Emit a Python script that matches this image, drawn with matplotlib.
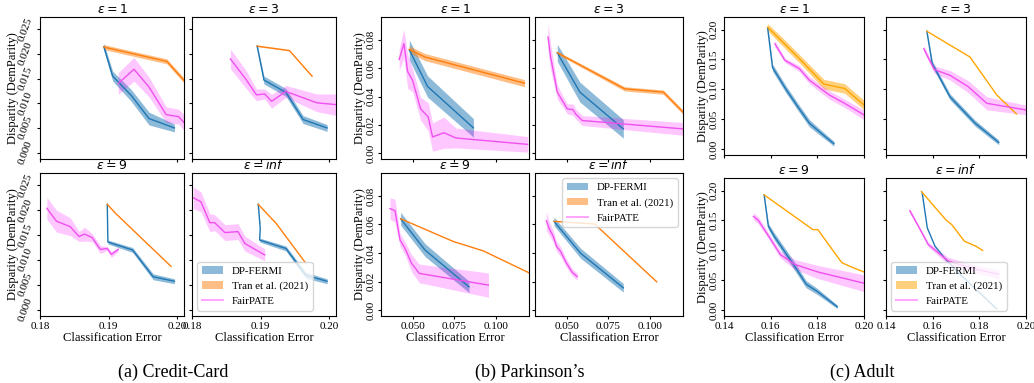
"""
DP-FERMI vs Tran et al. vs FairPATE: disparity / error trade-off
on Credit-Card, Parkinson's and Adult for several privacy budgets.
"""

import numpy as np
import matplotlib.pyplot as plt
from matplotlib.patches import Patch
from matplotlib.lines import Line2D

plt.rcParams['font.family'] = ['Liberation Serif', 'DejaVu Serif']
plt.rcParams['mathtext.fontset'] = 'dejavusans'

# each series: (classification error, disparity, spread)
# ---- Credit-Card ----
CC_E1_FERMI = [(0.1893, 0.0215, 0.0007), (0.1906, 0.0155, 0.0010), (0.1933, 0.0116, 0.0012),
               (0.1959, 0.0069, 0.0013), (0.1996, 0.0050, 0.0008)]
CC_E1_TRAN = [(0.1893, 0.0214, 0.0005), (0.1985, 0.0185, 0.0005), (0.2009, 0.0148, 0.0005),
              (0.2015, 0.0138, 0.0005)]
CC_E1_PATE = [(0.1914, 0.0140, 0.0022), (0.1937, 0.0169, 0.0024), (0.1959, 0.0133, 0.0020),
              (0.1984, 0.0077, 0.0016), (0.2002, 0.0073, 0.0015), (0.2012, 0.0058, 0.0016)]

CC_E3_FERMI = [(0.1895, 0.0216, 0.0004), (0.1905, 0.0147, 0.0008), (0.1937, 0.0122, 0.0008),
               (0.1962, 0.0067, 0.0008), (0.1997, 0.0050, 0.0007)]
CC_E3_TRAN = [(0.1895, 0.0216, 0.0001), (0.1942, 0.0207, 0.0001), (0.1975, 0.0155, 0.0001)]
CC_E3_PATE = [(0.1856, 0.0190, 0.0020), (0.1879, 0.0148, 0.0018), (0.1894, 0.0117, 0.0012),
              (0.1906, 0.0119, 0.0010), (0.1916, 0.0104, 0.0014), (0.1937, 0.0124, 0.0012),
              (0.1982, 0.0101, 0.0018), (0.2012, 0.0097, 0.0022)]

CC_E9_FERMI = [(0.18981, 0.0212, 0.0002), (0.18990, 0.0136, 0.0004), (0.1935, 0.0120, 0.0005),
               (0.1965, 0.0066, 0.0006), (0.1996, 0.0057, 0.0005)]
CC_E9_TRAN = [(0.18981, 0.0212, 0.0), (0.1910, 0.0194, 0.0), (0.1991, 0.0087, 0.0)]
CC_E9_PATE = [(0.1810, 0.0204, 0.0022), (0.1824, 0.0178, 0.0022), (0.1844, 0.0167, 0.0018),
              (0.1857, 0.0147, 0.0010), (0.1865, 0.0152, 0.0014), (0.1876, 0.0145, 0.0008),
              (0.1888, 0.0121, 0.0008), (0.1898, 0.0123, 0.0004), (0.1904, 0.0111, 0.0006),
              (0.1914, 0.0121, 0.0004)]

CC_EINF_FERMI = [(0.18966, 0.0212, 0.0002), (0.18995, 0.0163, 0.0003), (0.18986, 0.0140, 0.0004),
                 (0.1937, 0.0123, 0.0005), (0.1966, 0.0069, 0.0006), (0.1997, 0.0057, 0.0005)]
CC_EINF_TRAN = [(0.18966, 0.0212, 0.0), (0.1923, 0.0173, 0.0), (0.1965, 0.0095, 0.0)]
CC_EINF_PATE = [(0.1802, 0.0225, 0.0022), (0.1813, 0.0217, 0.0020), (0.1826, 0.0175, 0.0018),
                (0.1833, 0.0175, 0.0016), (0.1848, 0.0155, 0.0016), (0.1867, 0.0157, 0.0016),
                (0.1877, 0.0133, 0.0015), (0.1906, 0.0110, 0.0012)]

# ---- Parkinson's ----
PK_E1_FERMI = [(0.0480, 0.0729, 0.0070), (0.0590, 0.0471, 0.0075), (0.0866, 0.0179, 0.0065)]
PK_E1_TRAN = [(0.0480, 0.0732, 0.0025), (0.0574, 0.0678, 0.0025), (0.1173, 0.0494, 0.0025)]
PK_E1_PATE = [(0.0419, 0.0661, 0.0075), (0.0448, 0.0772, 0.0100), (0.0470, 0.0577, 0.0120),
              (0.0500, 0.0514, 0.0080), (0.0548, 0.0314, 0.0080), (0.0594, 0.0256, 0.0100),
              (0.0620, 0.0115, 0.0100), (0.0688, 0.0145, 0.0110), (0.0761, 0.0108, 0.0070),
              (0.1192, 0.0063, 0.0055)]

PK_E3_FERMI = [(0.0444, 0.0708, 0.0060), (0.0580, 0.0431, 0.0070), (0.0841, 0.0172, 0.0065)]
PK_E3_TRAN = [(0.0444, 0.0708, 0.0010), (0.0849, 0.0454, 0.0015), (0.1082, 0.0431, 0.0015),
              (0.1200, 0.0290, 0.0015)]
PK_E3_PATE = [(0.0388, 0.0819, 0.0100), (0.0404, 0.0678, 0.0090), (0.0444, 0.0431, 0.0050),
              (0.0474, 0.0372, 0.0040), (0.0504, 0.0313, 0.0035), (0.0538, 0.0308, 0.0040),
              (0.0554, 0.0278, 0.0035), (0.0594, 0.0231, 0.0035), (0.1200, 0.0172, 0.0045)]

PK_E9_FERMI = [(0.0428, 0.0640, 0.0045), (0.0574, 0.0422, 0.0045), (0.0839, 0.0164, 0.0040)]
PK_E9_TRAN = [(0.0428, 0.0640, 0.0), (0.0745, 0.0481, 0.0), (0.0926, 0.0415, 0.0),
              (0.1200, 0.0262, 0.0)]
PK_E9_PATE = [(0.0364, 0.0711, 0.0075), (0.0394, 0.0697, 0.0080), (0.0424, 0.0493, 0.0045),
              (0.0454, 0.0434, 0.0045), (0.0494, 0.0328, 0.0060), (0.0540, 0.0258, 0.0065),
              (0.0956, 0.0176, 0.0085)]

PK_EINF_FERMI = [(0.0424, 0.0622, 0.0030), (0.0584, 0.0399, 0.0035), (0.0841, 0.0157, 0.0030)]
PK_EINF_TRAN = [(0.0424, 0.0622, 0.0), (0.0669, 0.0603, 0.0), (0.1042, 0.0199, 0.0)]
PK_EINF_PATE = [(0.0378, 0.0626, 0.0065), (0.0394, 0.0575, 0.0050), (0.0420, 0.0516, 0.0040),
                (0.0440, 0.0446, 0.0035), (0.0464, 0.0411, 0.0035), (0.0494, 0.0340, 0.0030),
                (0.0534, 0.0265, 0.0025), (0.0564, 0.0235, 0.0025)]

# ---- Adult ----
AD_E1_FERMI = [(0.1587, 0.2028, 0.004), (0.1608, 0.1363, 0.006), (0.1666, 0.0997, 0.006),
               (0.1716, 0.0709, 0.006), (0.1766, 0.0432, 0.006), (0.1816, 0.0266, 0.005),
               (0.1871, 0.0089, 0.004)]
AD_E1_TRAN = [(0.1587, 0.2039, 0.006), (0.1659, 0.1762, 0.007), (0.1730, 0.1485, 0.007),
              (0.1828, 0.1086, 0.008), (0.1917, 0.1014, 0.008), (0.2000, 0.0737, 0.008)]
AD_E1_PATE = [(0.1618, 0.1762, 0.005), (0.1661, 0.1485, 0.004), (0.1723, 0.1346, 0.005),
              (0.1766, 0.1152, 0.006), (0.1852, 0.0903, 0.007), (0.1917, 0.0765, 0.007),
              (0.2000, 0.0571, 0.008)]

AD_E3_FERMI = [(0.1575, 0.1972, 0.003), (0.1598, 0.1429, 0.005), (0.1674, 0.0875, 0.005),
               (0.1782, 0.0432, 0.005), (0.1883, 0.0111, 0.004)]
AD_E3_TRAN = [(0.1575, 0.1972, 0.0), (0.1760, 0.1540, 0.0), (0.1875, 0.0903, 0.0),
              (0.1959, 0.0587, 0.0)]
AD_E3_PATE = [(0.1562, 0.1679, 0.005), (0.1607, 0.1330, 0.006), (0.1674, 0.1235, 0.008),
              (0.1753, 0.1042, 0.010), (0.1832, 0.0765, 0.011), (0.2000, 0.0654, 0.008)]

AD_E9_FERMI = [(0.1572, 0.1928, 0.002), (0.1590, 0.1402, 0.005), (0.1615, 0.1235, 0.006),
               (0.1702, 0.0737, 0.007), (0.1752, 0.0432, 0.006), (0.1802, 0.0305, 0.005),
               (0.1885, 0.0055, 0.003)]
AD_E9_TRAN = [(0.1572, 0.1928, 0.0), (0.1781, 0.1346, 0.0), (0.1802, 0.1346, 0.0),
              (0.1905, 0.0792, 0.0), (0.1953, 0.0709, 0.0), (0.2000, 0.0637, 0.0)]
AD_E9_PATE = [(0.1526, 0.1568, 0.006), (0.1547, 0.1501, 0.006), (0.1587, 0.1263, 0.005),
              (0.1641, 0.0931, 0.006), (0.1702, 0.0765, 0.008), (0.1802, 0.0637, 0.011),
              (0.2000, 0.0449, 0.014)]

AD_EINF_FERMI = [(0.1555, 0.1967, 0.0), (0.1577, 0.1374, 0.0), (0.1610, 0.1069, 0.0),
                 (0.1650, 0.0875, 0.0), (0.1710, 0.0626, 0.0), (0.1875, 0.0017, 0.0)]
AD_EINF_TRAN = [(0.1552, 0.1983, 0.0), (0.1656, 0.1512, 0.0), (0.1682, 0.1429, 0.0),
                (0.1736, 0.1152, 0.0), (0.1785, 0.1069, 0.0), (0.1814, 0.0997, 0.0)]
AD_EINF_PATE = [(0.1502, 0.1662, 0.004), (0.1535, 0.1429, 0.003), (0.1581, 0.1097, 0.004),
                (0.1667, 0.0820, 0.006), (0.1775, 0.0692, 0.007), (0.1883, 0.0598, 0.007)]

EPS_TITLES = [r'$\epsilon = 1$', r'$\epsilon = 3$', r'$\epsilon = 9$', r'$\epsilon = inf$']
METHODS = ['DP-FERMI', 'Tran et al. (2021)', 'FairPATE']
CAPTIONS = ['(a) Credit-Card', "(b) Parkinson\u2019s", '(c) Adult']

BLUE = '#1f77b4'
PATE_LINE = '#f050f0'
PATE_FILL = '#ff00ff'

W, H = 1034, 383


def box(l, t, r, b):
    # pixel box -> figure fraction
    return [l / W, 1 - b / H, (r - l) / W, (b - t) / H]


groups = [
    dict(panels=[(CC_E1_FERMI, CC_E1_TRAN, CC_E1_PATE), (CC_E3_FERMI, CC_E3_TRAN, CC_E3_PATE),
                 (CC_E9_FERMI, CC_E9_TRAN, CC_E9_PATE), (CC_EINF_FERMI, CC_EINF_TRAN, CC_EINF_PATE)],
         boxes=[(40, 17, 184, 159), (192, 17, 336, 159), (40, 173, 184, 316), (192, 173, 336, 316)],
         xlim=(0.18, 0.201), ylim=(-0.0013, 0.0275),
         xticks=[0.18, 0.19, 0.20], xfmt='%.2f', yticks=[0, 0.005, 0.01, 0.015, 0.02, 0.025], yfmt='%.3f',
         yrot=70, ylab_x=-0.145, tran='#ff7f0e', legend_loc='lower left', cap_x=173),
    dict(panels=[(PK_E1_FERMI, PK_E1_TRAN, PK_E1_PATE), (PK_E3_FERMI, PK_E3_TRAN, PK_E3_PATE),
                 (PK_E9_FERMI, PK_E9_TRAN, PK_E9_PATE), (PK_EINF_FERMI, PK_EINF_TRAN, PK_EINF_PATE)],
         boxes=[(381, 17, 529, 159), (535, 17, 683, 159), (381, 173, 529, 316), (535, 173, 683, 316)],
         xlim=(0.031, 0.12), ylim=(-0.004, 0.096),
         xticks=[0.05, 0.075, 0.1], xfmt='%.3f', yticks=[0, 0.02, 0.04, 0.06, 0.08], yfmt='%.2f',
         yrot=90, ylab_x=-0.10, tran='#ff7f0e', legend_loc='upper right', cap_x=530),
    dict(panels=[(AD_E1_FERMI, AD_E1_TRAN, AD_E1_PATE), (AD_E3_FERMI, AD_E3_TRAN, AD_E3_PATE),
                 (AD_E9_FERMI, AD_E9_TRAN, AD_E9_PATE), (AD_EINF_FERMI, AD_EINF_TRAN, AD_EINF_PATE)],
         boxes=[(724, 17, 864, 155), (886, 17, 1026, 155), (724, 178, 864, 316), (886, 178, 1026, 316)],
         xlim=(0.14, 0.20), ylim=(-0.01, 0.221),
         xticks=[0.14, 0.16, 0.18, 0.20], xfmt='%.2f', yticks=[0, 0.05, 0.1, 0.15, 0.2], yfmt='%.2f',
         yrot=90, ylab_x=-0.107, tran='#ffa500', legend_loc='lower left', cap_x=862),
]

fig = plt.figure(figsize=(W / 100, H / 100), dpi=100)

for gi, g in enumerate(groups):
    for i, (series, bx) in enumerate(zip(g['panels'], g['boxes'])):
        ax = fig.add_axes(box(*bx))
        for data, color in zip(series, [BLUE, g['tran'], PATE_LINE]):
            x, y, sd = np.array(data).T
            fill_c, fill_a = (PATE_FILL, 0.22) if color == PATE_LINE else (color, 0.5)
            ax.fill_between(x, y - sd, y + sd, color=fill_c, alpha=fill_a, lw=0)
            ax.plot(x, y, color=color, lw=1)

        ax.set_xlim(*g['xlim'])
        ax.set_ylim(*g['ylim'])
        ax.set_xticks(g['xticks'])
        ax.set_yticks(g['yticks'])
        ax.xaxis.set_major_formatter(plt.FormatStrFormatter(g['xfmt']))
        ax.yaxis.set_major_formatter(plt.FormatStrFormatter(g['yfmt']))
        ax.tick_params(labelsize=8, length=2.5, pad=1.5)
        ax.set_title(EPS_TITLES[i], fontsize=9, pad=3)

        if i < 2:
            ax.tick_params(labelbottom=False)
        else:
            ax.set_xlabel('Classification Error', fontsize=9, labelpad=1)
        if i % 2 == 1:
            ax.tick_params(labelleft=False)
        else:
            ax.set_ylabel('Disparity (DemParity)', fontsize=9)
            ax.yaxis.set_label_coords(g['ylab_x'], 0.5)
            for lab in ax.get_yticklabels():
                lab.set_rotation(g['yrot'])
                lab.set_va('center')

        if i == 3:
            handles = [Patch(facecolor=BLUE, alpha=0.5),
                       Patch(facecolor=g['tran'], alpha=0.5),
                       Line2D([], [], color=PATE_FILL, alpha=0.35, lw=1.5)]
            ax.legend(handles, METHODS, loc=g['legend_loc'], fontsize=7.8)

    fig.text(g['cap_x'] / W, 1 - 372 / H, CAPTIONS[gi],
             ha='center', va='center', fontsize=13)

fig.savefig('out.png', dpi=100, facecolor='white')
